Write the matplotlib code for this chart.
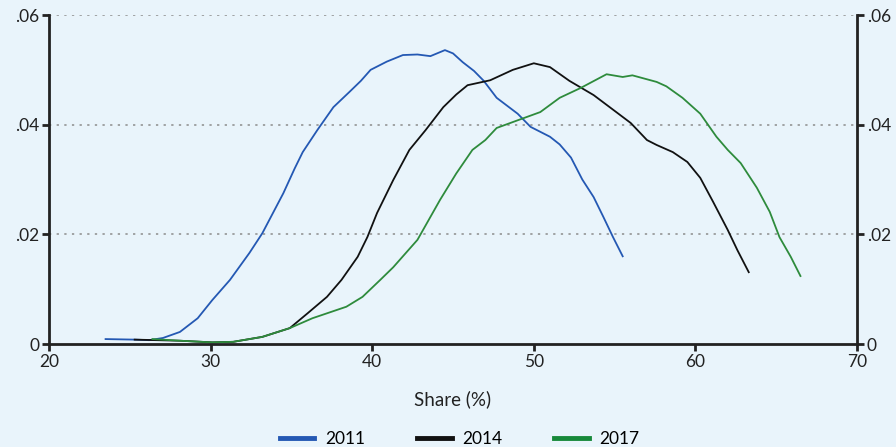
import matplotlib
matplotlib.use("Agg")
import matplotlib.pyplot as plt
from matplotlib.lines import Line2D

# Share (%) vs density
x_2011 = [23.5, 25.3, 26.2, 27.05, 28.1, 29.2, 30.1, 31.2, 32.4, 33.2, 34.5, 35.2, 35.7, 36.6,
          37.6, 38.6, 39.3, 39.9, 40.9, 41.9, 42.8, 43.6, 44.5, 45.0, 45.6, 46.3, 46.9, 47.7,
          49.0, 49.8, 51.0, 51.6, 52.3, 53.0, 53.7, 54.3, 54.9, 55.5]
y_2011 = [0.0009, 0.0008, 0.0007, 0.0011, 0.0022, 0.0047, 0.0080, 0.0117, 0.0166, 0.0202,
          0.0275, 0.0320, 0.0350, 0.0390, 0.0432, 0.0460, 0.0480, 0.0500, 0.0515, 0.0527,
          0.0528, 0.0525, 0.0536, 0.0530, 0.0514, 0.0498, 0.0480, 0.0449, 0.0420, 0.0396,
          0.0378, 0.0364, 0.0340, 0.0300, 0.0268, 0.0232, 0.0195, 0.0160]

x_2014 = [25.3, 28.1, 30.1, 31.4, 33.2, 34.9, 36.0, 37.2, 38.1, 39.1, 39.7, 40.3, 41.3,
          42.3, 43.3, 44.4, 45.2, 45.9, 47.3, 48.7, 50.0, 51.0, 52.2, 53.7, 55.1, 56.0, 57.0,
          57.6, 58.6, 59.5, 60.3, 61.1, 62.0, 62.6, 63.3]
y_2014 = [0.0008, 0.0006, 0.0003, 0.0004, 0.0013, 0.0029, 0.0056, 0.0086, 0.0117, 0.0159,
          0.0195, 0.0239, 0.0299, 0.0354, 0.0390, 0.0432, 0.0455, 0.0472, 0.0481, 0.0500,
          0.0512, 0.0505, 0.0480, 0.0454, 0.0423, 0.0403, 0.0372, 0.0363, 0.0350, 0.0332,
          0.0303, 0.0259, 0.0208, 0.0171, 0.0131]

x_2017 = [26.4, 28.1, 30.1, 31.4, 33.2, 34.9, 36.3, 37.6, 38.4, 39.4, 40.5, 41.3, 42.8,
          44.2, 45.2, 46.2, 47.0, 47.7, 49.0, 50.4, 51.6, 52.9, 54.5, 55.5, 56.1, 57.6, 58.2,
          59.2, 60.3, 61.3, 62.0, 62.8, 63.8, 64.6, 65.2, 65.9, 66.5]
y_2017 = [0.0009, 0.0006, 0.0003, 0.0004, 0.0013, 0.0029, 0.0047, 0.0060, 0.0068, 0.0086,
          0.0117, 0.0140, 0.0190, 0.0263, 0.0311, 0.0354, 0.0372, 0.0394, 0.0408, 0.0423,
          0.0449, 0.0467, 0.0492, 0.0487, 0.0490, 0.0478, 0.0470, 0.0449, 0.0420, 0.0378,
          0.0354, 0.0330, 0.0285, 0.0241, 0.0195, 0.0159, 0.0124]

years = ["2011", "2014", "2017"]
colors = ["#2458b3", "#111111", "#2e8b3c"]
legend_colors = ["#2458b3", "#111111", "#17893a"]

bg = "#e9f4fb"
plt.rcParams['font.family'] = ['Lato', 'DejaVu Sans']

fig = plt.figure(figsize=(8.96, 4.47), dpi=100, facecolor=bg)
ax = fig.add_axes([0.0547, 0.2304, 0.9018, 0.7360])
ax.set_facecolor(bg)

for xs, ys, c in zip([x_2011, x_2014, x_2017], [y_2011, y_2014, y_2017], colors):
    ax.plot(xs, ys, color=c, lw=1.3, solid_joinstyle="round")

ax.set_xlim(20, 70)
ax.set_ylim(0, 0.06)
ax.set_xticks([20, 30, 40, 50, 60, 70])
ax.set_yticks([0, 0.02, 0.04, 0.06])
ax.set_yticklabels(["0", ".02", ".04", ".06"])

for v in [0.02, 0.04, 0.06]:
    ax.axhline(v, color="#8c8c8c", lw=1.1, ls=(0, (1.5, 3.5)), zorder=0)

for s in ["left", "right", "bottom"]:
    ax.spines[s].set_linewidth(2)
    ax.spines[s].set_color("#222222")
ax.spines["top"].set_visible(False)

ax.tick_params(axis="both", direction="out", length=5, width=2, color="#222222",
               labelsize=12.5, labelcolor="#222222", pad=2)
ax.tick_params(axis="y", right=True, labelright=True)

ax.set_xlabel("Share (%)", fontsize=13.5, color="#222222", labelpad=15)

handles = [Line2D([0], [0], color=c, lw=3.5) for c in legend_colors]
fig.legend(handles, years, loc="lower center", ncol=3, frameon=False,
           bbox_to_anchor=(0.513, -0.035), fontsize=12.5, handlelength=2.0,
           columnspacing=3.0, handletextpad=0.6)

fig.savefig("out.png", dpi=100, facecolor=bg)
